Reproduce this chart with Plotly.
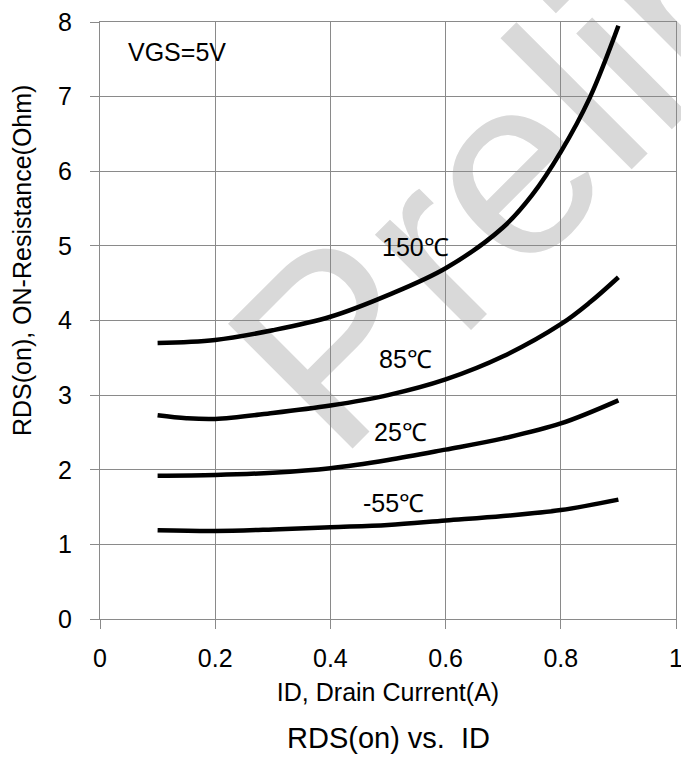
import plotly.graph_objects as go

# ---- data ----
id_150 = [0.1, 0.2, 0.3, 0.4, 0.5, 0.6, 0.7, 0.75, 0.8, 0.85, 0.9]
rds_150 = [3.70, 3.74, 3.87, 4.05, 4.34, 4.70, 5.25, 5.68, 6.26, 6.98, 7.95]

id_85 = [0.1, 0.15, 0.2, 0.3, 0.4, 0.5, 0.6, 0.7, 0.8, 0.85, 0.9]
rds_85 = [2.73, 2.69, 2.68, 2.76, 2.86, 3.00, 3.21, 3.52, 3.95, 4.24, 4.58]

id_25 = [0.1, 0.2, 0.3, 0.4, 0.5, 0.6, 0.7, 0.8, 0.9]
rds_25 = [1.92, 1.93, 1.96, 2.02, 2.13, 2.27, 2.42, 2.62, 2.93]

id_m55 = [0.1, 0.2, 0.3, 0.4, 0.5, 0.6, 0.7, 0.8, 0.9]
rds_m55 = [1.19, 1.18, 1.20, 1.23, 1.26, 1.32, 1.38, 1.46, 1.60]

curve_labels = ["150℃", "85℃", "25℃", "-55℃"]
label_x = [0.548, 0.531, 0.521, 0.510]
label_y = [4.98, 3.48, 2.51, 1.555]

x_ticks = [0, 0.2, 0.4, 0.6, 0.8, 1]
x_tick_text = ["0", "0.2", "0.4", "0.6", "0.8", "1"]
y_ticks = [0, 1, 2, 3, 4, 5, 6, 7, 8]

FONT = "Liberation Sans, Arial, sans-serif"
GRID = "#8a8a8a"

fig = go.Figure()
for xs, ys, name in [(id_150, rds_150, "150℃"), (id_85, rds_85, "85℃"),
                     (id_25, rds_25, "25℃"), (id_m55, rds_m55, "-55℃")]:
    fig.add_trace(go.Scatter(x=xs, y=ys, mode="lines", name=name,
                             line=dict(color="black", width=4.5, shape="spline", smoothing=1),
                             hoverinfo="x+y+name"))

annotations = []
for t, ax, ay in zip(curve_labels, label_x, label_y):
    annotations.append(dict(x=ax, y=ay, xref="x", yref="y", text=t, showarrow=False,
                            font=dict(size=25, color="black", family=FONT),
                            xanchor="center", yanchor="middle"))
annotations.append(dict(x=0.1336, y=7.60, xref="x", yref="y", text="VGS=5V", showarrow=False,
                        font=dict(size=25, color="black", family=FONT),
                        xanchor="center", yanchor="middle"))
# y-axis title (placed off-centre as in the reference)
annotations.append(dict(x=-0.135, y=0.60, xref="paper", yref="paper",
                        text="RDS(on), ON-Resistance(Ohm)", showarrow=False, textangle=-90,
                        font=dict(size=25, color="black", family=FONT),
                        xanchor="center", yanchor="middle"))
# bottom caption
annotations.append(dict(x=0.5, y=-0.1994, xref="paper", yref="paper",
                        text="RDS(on) vs.\u00a0 ID", showarrow=False,
                        font=dict(size=29, color="black", family=FONT),
                        xanchor="center", yanchor="middle"))

# light watermark drawn beneath the grid
shapes = [dict(type="rect", xref="paper", yref="paper",
               x0=1.01, x1=1.11, y0=1.103, y1=1.203,
               line=dict(width=0, color="rgba(0,0,0,0)"), fillcolor="rgba(0,0,0,0)",
               layer="below",
               label=dict(text="Preliminary", textangle=-45, textposition="middle center",
                          font=dict(size=256, color="#d9d9d9", family=FONT)))]

fig.update_layout(
    width=681, height=758,
    margin=dict(l=100, r=5, t=22, b=139, autoexpand=False),
    paper_bgcolor="white", plot_bgcolor="rgba(0,0,0,0)",
    showlegend=False,
    font=dict(family=FONT, color="black", size=25),
    annotations=annotations,
    shapes=shapes,
)
fig.update_xaxes(range=[0, 1], tickvals=x_ticks, ticktext=x_tick_text,
                 showgrid=True, gridcolor=GRID, gridwidth=1.3,
                 showline=True, linecolor=GRID, linewidth=1.3, mirror=True,
                 ticks="outside", ticklen=9, tickcolor=GRID, tickwidth=1.3,
                 ticklabelstandoff=8, ticklabeloverflow="allow", zeroline=False,
                 automargin=False,
                 tickfont=dict(size=25, family=FONT, color="black"),
                 title=dict(text="ID, Drain Current(A)", standoff=12,
                            font=dict(size=25, family=FONT, color="black")))
fig.update_yaxes(range=[0, 8], tickvals=y_ticks,
                 showgrid=True, gridcolor=GRID, gridwidth=1.3,
                 showline=True, linecolor=GRID, linewidth=1.3, mirror=True,
                 ticks="outside", ticklen=9, tickcolor=GRID, tickwidth=1.3,
                 ticklabelstandoff=13, zeroline=False, automargin=False,
                 tickfont=dict(size=25, family=FONT, color="black"))

fig.write_html("out.html")
